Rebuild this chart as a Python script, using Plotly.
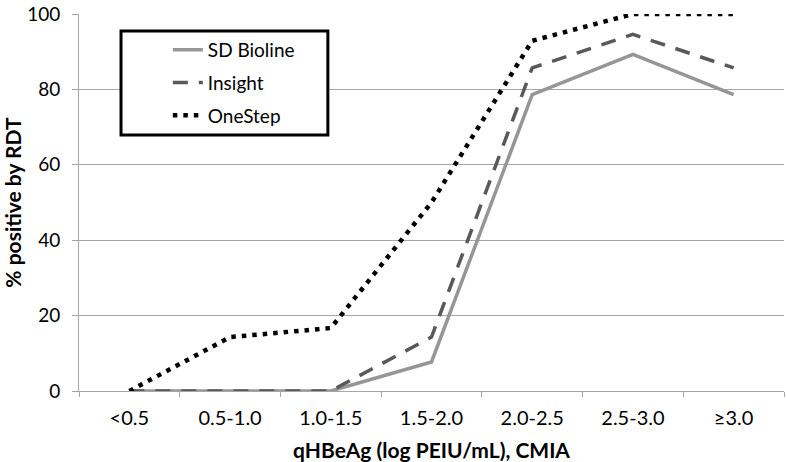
import plotly.graph_objects as go

categories = ["<0.5", "0.5-1.0", "1.0-1.5", "1.5-2.0", "2.0-2.5", "2.5-3.0", "≥3.0"]
sd_bioline = [0, 0, 0, 7.7, 78.6, 89.3, 78.6]
insight = [0, 0, 0, 14.3, 85.7, 94.6, 85.7]
onestep = [0, 14.3, 16.7, 50.0, 92.9, 100, 100]
y_ticks = [0, 20, 40, 60, 80, 100]

FONT = "Lato, Open Sans, sans-serif"
GRID = "#a6a6a6"

fig = go.Figure()
fig.add_trace(go.Scatter(x=categories, y=sd_bioline, mode="lines", name="SD Bioline",
                         legendgroup="a",
                         line=dict(color="#969696", width=3.5)))
fig.add_trace(go.Scatter(x=categories, y=insight, mode="lines", name="Insight",
                         legendgroup="b",
                         line=dict(color="#595959", width=3.5, dash="15px,11px")))
fig.add_trace(go.Scatter(x=categories, y=onestep, mode="lines", name="OneStep",
                         legendgroup="c",
                         line=dict(color="#000000", width=4.5, dash="4.5px,6px")))

# legend frame
fig.add_shape(type="rect", xref="paper", yref="paper",
              x0=0.0596, x1=0.353, y0=0.679, y1=0.955,
              fillcolor="white", line=dict(color="black", width=3), layer="above")

fig.update_layout(
    width=786, height=462,
    margin=dict(l=79, r=2, t=14, b=71),
    paper_bgcolor="white", plot_bgcolor="white",
    font=dict(family=FONT, size=19, color="#000000"),
    showlegend=True,
    legend=dict(x=0.126, y=0.955, xanchor="left", yanchor="top",
                bgcolor="rgba(0,0,0,0)", borderwidth=0,
                font=dict(size=19), tracegroupgap=5),
    xaxis=dict(
        type="category", range=[-0.5, 6.5], automargin=False,
        showgrid=False, showline=True, linecolor=GRID, linewidth=1,
        ticks="outside", ticklen=5, tickcolor=GRID, tickson="boundaries",
        tickfont=dict(size=20), ticklabelstandoff=9,
        title=dict(text="<b>qHBeAg (log PEIU/mL), CMIA</b>", font=dict(size=21), standoff=15),
    ),
    yaxis=dict(
        range=[0, 100], tickvals=y_ticks, automargin=False,
        showgrid=True, gridcolor=GRID, gridwidth=1,
        showline=True, linecolor=GRID, linewidth=1,
        ticks="outside", ticklen=6, tickcolor=GRID, ticklabeloverflow="allow",
        tickfont=dict(size=19), zeroline=False, ticklabelstandoff=8,
        title=dict(text="<b>% positive by RDT</b>", font=dict(size=21), standoff=2),
    ),
)

fig.write_html("out.html", config={"displayModeBar": False},
               post_script="document.body.style.margin='0';")
